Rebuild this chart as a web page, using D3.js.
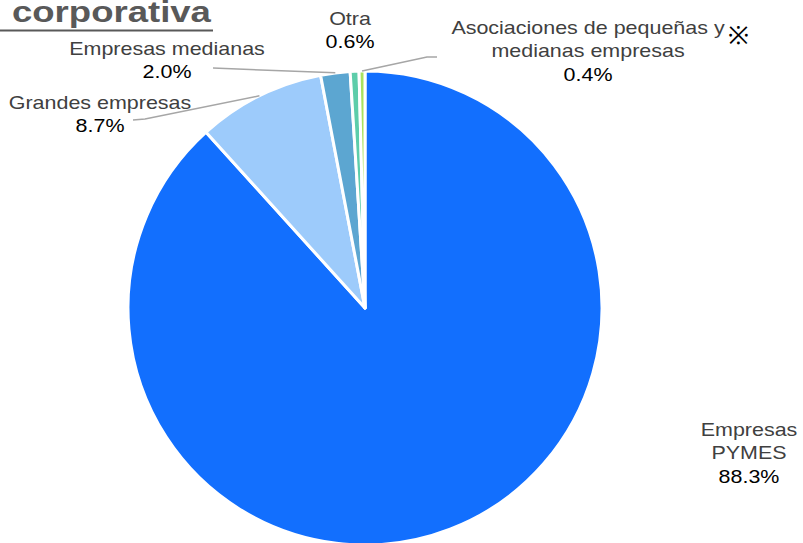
<!DOCTYPE html>
<html>
<head>
<meta charset="utf-8">
<script src="https://cdnjs.cloudflare.com/ajax/libs/d3/7.8.5/d3.min.js"></script>
<title>corporativa</title>
<style>
  body{ margin:0; background:#fff; }
  text{ font-family: "Liberation Sans", Arial, sans-serif; }
</style>
</head>
<body>
<script>
var categories = ["Empresas PYMES", "Grandes empresas", "Empresas medianas", "Otra", "Asociaciones de pequeñas y medianas empresas"],
    values = [88.3, 8.7, 2.0, 0.6, 0.4],
    colors = ["#126FFE", "#9DCBFB", "#5CA6D1", "#5DCDAA", "#A9E25F"];

// label layout: text lines, anchor point, leader line points (null = no line)
var labels = [
  { lines: ["Empresas", "PYMES"], x: 749, y: 436, leader: null },
  { lines: ["Grandes empresas"], x: 100, y: 109, leader: [[133,120],[145,119]] },
  { lines: ["Empresas medianas"], x: 167, y: 55, leader: [[213,68]] },
  { lines: ["Otra"], x: 350, y: 25, leader: null },
  { lines: ["Asociaciones de pequeñas y", "medianas empresas"], x: 588, y: 34, leader: [[437,57],[427,57]] }
];

var w = 803, h = 543,
    cx = 365, cy = 308, r = 237,
    fs = 19, lh = 23.5, sx = 1.13;

var svg = d3.select("body").append("svg")
    .attr("width", w)
    .attr("height", h);

// title (cut at the top edge, as in the source)
svg.append("text")
    .attr("transform", "translate(12,22) scale(1.26,1)")
    .attr("font-size", 29)
    .attr("font-weight", "bold")
    .attr("fill", "#595959")
    .text("corporativa");
svg.append("line")
    .attr("x1", 0).attr("x2", 213)
    .attr("y1", 30.5).attr("y2", 30.5)
    .attr("stroke", "#595959")
    .attr("stroke-width", 2);

var pie = d3.pie().sort(null).value(function(d){ return d; });
var arcs = pie(values);
var arc = d3.arc().innerRadius(0).outerRadius(r);

var g = svg.append("g").attr("transform", "translate(" + cx + "," + cy + ")");

g.selectAll("path")
  .data(arcs)
  .enter().append("path")
    .attr("d", arc)
    .attr("fill", function(d, i){ return colors[i]; })
    .attr("stroke", "#fff")
    .attr("stroke-width", 3)
    .attr("stroke-linejoin", "round");

// leader lines
var edge = d3.arc().innerRadius(r).outerRadius(r);
labels.forEach(function(L, i){
  if (!L.leader) return;
  var c = edge.centroid(arcs[i]);
  var pts = L.leader.concat([[cx + c[0], cy + c[1]]]);
  svg.append("path")
      .attr("d", d3.line()(pts))
      .attr("fill", "none")
      .attr("stroke", "#A6A6A6")
      .attr("stroke-width", 1.5);
});

// labels
labels.forEach(function(L, i){
  var t = svg.append("text")
      .attr("transform", "translate(" + L.x + "," + L.y + ") scale(" + sx + ",1)")
      .attr("text-anchor", "middle")
      .attr("font-size", fs);
  L.lines.forEach(function(s, k){
    t.append("tspan").attr("x", 0).attr("y", k * lh)
      .attr("fill", "#404040").text(s);
  });
  t.append("tspan").attr("x", 0).attr("y", L.lines.length * lh)
    .attr("fill", "#000").text(d3.format(".1f")(values[i]) + "%");
});

// note mark
svg.append("text")
    .attr("x", 738).attr("y", 44)
    .attr("text-anchor", "middle")
    .attr("font-size", 25)
    .attr("font-family", "Noto Sans CJK JP")
    .attr("fill", "#000")
    .text("※");
</script>
</body>
</html>
